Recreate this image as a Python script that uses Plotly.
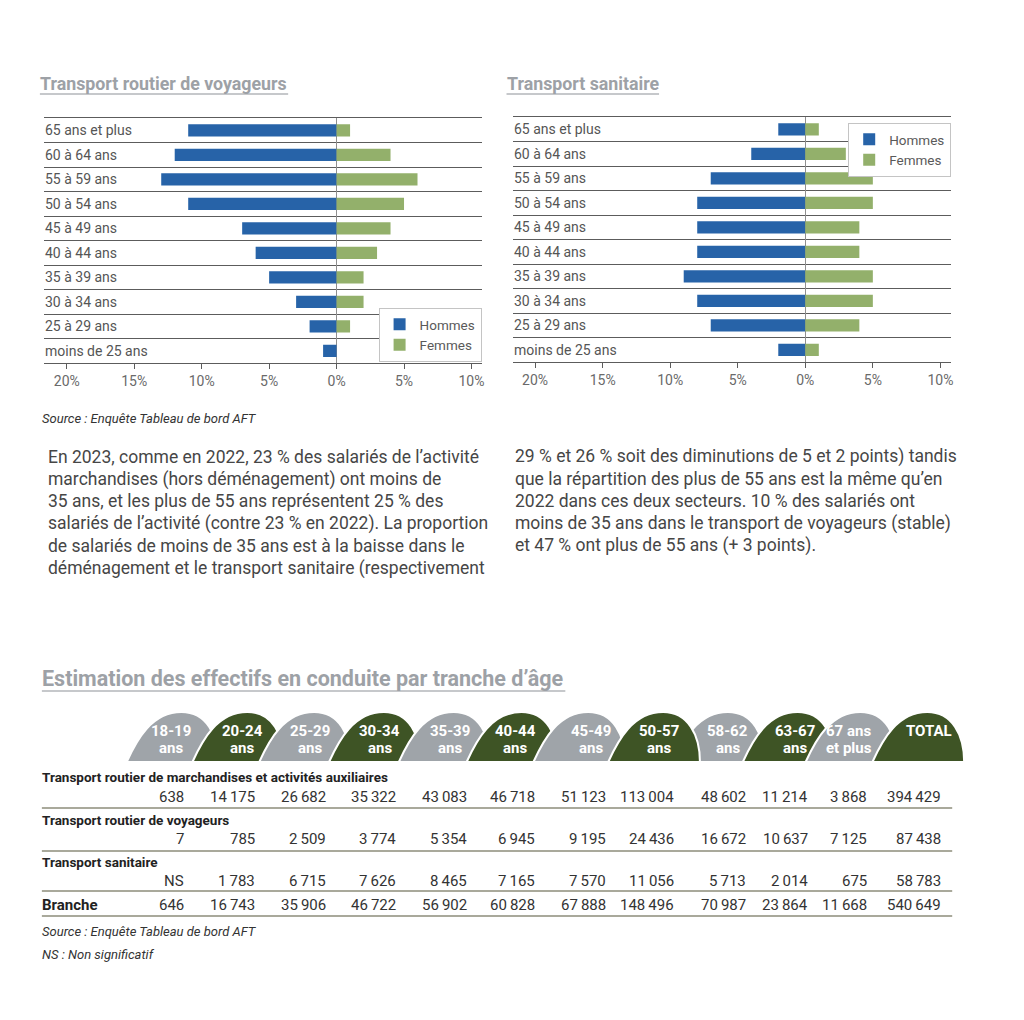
import plotly.graph_objects as go

# ---------------- DATA ----------------
AGE_GROUPS = ["65 ans et plus", "60 à 64 ans", "55 à 59 ans", "50 à 54 ans", "45 à 49 ans",
              "40 à 44 ans", "35 à 39 ans", "30 à 34 ans", "25 à 29 ans", "moins de 25 ans"]
VOY_HOMMES = [11, 12, 13, 11, 7, 6, 5, 3, 2, 1]
VOY_FEMMES = [1, 4, 6, 5, 4, 3, 2, 2, 1, 0]
SAN_HOMMES = [2, 4, 7, 8, 8, 8, 9, 8, 7, 2]
SAN_FEMMES = [1, 3, 5, 5, 4, 4, 5, 5, 4, 1]
TICK_VALS = [-20, -15, -10, -5, 0, 5, 10]
TICK_TEXT = ["20%", "15%", "10%", "5%", "0%", "5%", "10%"]

TAB_LINE1 = ["18-19", "20-24", "25-29", "30-34", "35-39", "40-44", "45-49", "50-57",
             "58-62", "63-67", "67 ans", "TOTAL"]
TAB_LINE2 = ["ans", "ans", "ans", "ans", "ans", "ans", "ans", "ans", "ans", "ans", "et plus", ""]

ROW_TITLES = ["Transport routier de marchandises et activités auxiliaires",
              "Transport routier de voyageurs", "Transport sanitaire", "Branche"]
MARCHANDISES = [638, 14175, 26682, 35322, 43083, 46718, 51123, 113004, 48602, 11214, 3868, 394429]
VOYAGEURS = [7, 785, 2509, 3774, 5354, 6945, 9195, 24436, 16672, 10637, 7125, 87438]
SANITAIRE = [None, 1783, 6715, 7626, 8465, 7165, 7570, 11056, 5713, 2014, 675, 58783]
BRANCHE = [646, 16743, 35906, 46722, 56902, 60828, 67888, 148496, 70987, 23864, 11668, 540649]

PARA_LEFT = [
    "En 2023, comme en 2022, 23 % des salariés de l’activité",
    "marchandises (hors déménagement) ont moins de",
    "35 ans, et les plus de 55 ans représentent 25 % des",
    "salariés de l’activité (contre 23 % en 2022). La proportion",
    "de salariés de moins de 35 ans est à la baisse dans le",
    "déménagement et le transport sanitaire (respectivement",
]
PARA_RIGHT = [
    "29 % et 26 % soit des diminutions de 5 et 2 points) tandis",
    "que la répartition des plus de 55 ans est la même qu’en",
    "2022 dans ces deux secteurs. 10 % des salariés ont",
    "moins de 35 ans dans le transport de voyageurs (stable)",
    "et 47 % ont plus de 55 ans (+ 3 points).",
]

# ---------------- LAYOUT CONSTANTS (pixels) ----------------
W, H = 1024, 1020
def px(x):
    return x / W
def py(y):
    return 1 - y / H

FONT = "Roboto, 'DejaVu Sans', sans-serif"
NARROW = "'Liberation Sans Narrow', 'Arial Narrow', Roboto, sans-serif"
BLUE = "#2763a8"
GREEN = "#93b06b"
GRID = "#5c5c5c"
TITLE_GRAY = "#9da1a6"
TAB_GRAY = "#9fa4a9"
TAB_DARK = "#3e5425"
RULE = "#8c8c7a"

COL_RIGHT = [184, 255, 326, 396, 467, 536, 607, 675, 747, 809, 869, 943]
TAB_X0 = [127, 193, 260, 330, 400, 468, 535, 610, 675, 745, 808, 875]
TAB_CX = [172, 243, 311, 381, 451, 517, 593, 661, 730, 797, 851, 932]
TAB_DRAW_ORDER = [0, 1, 2, 3, 4, 5, 6, 8, 7, 9, 10, 11]

fig = go.Figure()

# ---------------- BAR CHARTS ----------------
for hom, fem, xa, ya, lg in [(VOY_HOMMES, VOY_FEMMES, "x", "y", "legend"),
                             (SAN_HOMMES, SAN_FEMMES, "x2", "y2", "legend2")]:
    fig.add_trace(go.Bar(x=[-v for v in hom], y=AGE_GROUPS, orientation="h", name="Hommes",
                         marker=dict(color=BLUE, line=dict(width=0)), xaxis=xa, yaxis=ya,
                         legend=lg, hoverinfo="skip"))
    fig.add_trace(go.Bar(x=fem, y=AGE_GROUPS, orientation="h", name="Femmes",
                         marker=dict(color=GREEN, line=dict(width=0)), xaxis=xa, yaxis=ya,
                         legend=lg, hoverinfo="skip"))

xcommon = dict(tickvals=TICK_VALS, ticktext=TICK_TEXT, showgrid=False, zeroline=True,
               zerolinecolor="#8f8f8f", zerolinewidth=1, showline=True, linecolor=GRID,
               linewidth=1.3, mirror=True, ticks="outside", ticklen=5, tickcolor=GRID,
               tickfont=dict(family=FONT, size=14, color="#6a6a6a"), fixedrange=True)
ycommon = dict(type="category", categoryorder="array", categoryarray=AGE_GROUPS[::-1],
               range=[-0.5, 9.5], tickson="boundaries", showgrid=True, gridcolor=GRID,
               gridwidth=1.3, showticklabels=False, ticks="", showline=False, zeroline=False,
               fixedrange=True)

fig.update_layout(
    xaxis=dict(domain=[px(44), px(483)], range=[-21.7, 10.75], anchor="y", **xcommon),
    yaxis=dict(domain=[py(363), py(118)], anchor="x", **ycommon),
    xaxis2=dict(domain=[px(515), px(954)], range=[-21.6, 10.8], anchor="y2", **xcommon),
    yaxis2=dict(domain=[py(362), py(117)], anchor="x2", **ycommon),
    barmode="relative",
    bargap=0.5,
)

legend_common = dict(xanchor="right", yanchor="top", bgcolor="white", bordercolor="#c4c4c4",
                     borderwidth=1, font=dict(family=FONT, size=13.5, color="#5a5a5a"),
                     traceorder="normal", itemsizing="constant", tracegroupgap=0,
                     itemwidth=30)
fig.update_layout(
    legend=dict(x=px(483), y=py(308), **legend_common),
    legend2=dict(x=px(954), y=py(123), **legend_common),
)

annotations = []
shapes = []

# category labels inside plot areas
for xa, ya in [("x", "y"), ("x2", "y2")]:
    for cat in AGE_GROUPS:
        annotations.append(dict(text=cat, xref=f"{xa} domain", yref=ya, x=0.0, y=cat,
                                xanchor="left", yanchor="middle", showarrow=False, xshift=-1,
                                font=dict(family=FONT, size=14, color="#555")))

# titles
def title(text, x, y, size, underline_to, uy):
    annotations.append(dict(text=f"<b>{text}</b>", xref="paper", yref="paper", x=px(x), y=py(y),
                            xanchor="left", yanchor="middle", showarrow=False, xshift=-2,
                            font=dict(family=FONT, size=size, color=TITLE_GRAY)))
    shapes.append(dict(type="line", xref="paper", yref="paper", x0=px(x), x1=px(underline_to),
                       y0=py(uy), y1=py(uy), line=dict(color="#b3b6ba", width=1.5)))

title("Transport routier de voyageurs", 40, 83, 17.8, 289, 94)
title("Transport sanitaire", 508, 83, 17.8, 661, 94)
title("Estimation des effectifs en conduite par tranche d’âge", 42, 678, 21.5, 567, 691)

annotations.append(dict(text="<i>Source : Enquête Tableau de bord AFT</i>", xref="paper", yref="paper",
                        x=px(42), y=py(418), xanchor="left", yanchor="middle", showarrow=False,
                        xshift=-2, font=dict(family=FONT, size=13, color="#333")))

# paragraphs
for i, line in enumerate(PARA_LEFT):
    annotations.append(dict(text=line, xref="paper", yref="paper", x=px(46), y=py(457 + i * 22.2),
                            xanchor="left", yanchor="middle", showarrow=False,
                            font=dict(family=FONT, size=17.5, color="#464646")))
for i, line in enumerate(PARA_RIGHT):
    annotations.append(dict(text=line, xref="paper", yref="paper", x=px(515), y=py(457 + i * 22.2),
                            xanchor="left", yanchor="middle", showarrow=False,
                            font=dict(family=FONT, size=17.5, color="#464646")))

# ---------------- TABLE HEADER TABS ----------------
YB, YT = 762, 712
def tab_path(x0, w=92):
    pts = [(x0, YB), (x0 + 10, 740), (x0 + 25, YT), (x0 + 55, YT),
           (x0 + 80, YT), (x0 + w, 735), (x0 + w, YB)]
    p = [(px(a), py(b)) for a, b in pts]
    return (f"M {p[0][0]},{p[0][1]} C {p[1][0]},{p[1][1]} {p[2][0]},{p[2][1]} {p[3][0]},{p[3][1]} "
            f"C {p[4][0]},{p[4][1]} {p[5][0]},{p[5][1]} {p[6][0]},{p[6][1]} Z")

for i in TAB_DRAW_ORDER:
    color = TAB_GRAY if i % 2 == 0 else TAB_DARK
    shapes.append(dict(type="path", xref="paper", yref="paper", path=tab_path(TAB_X0[i]),
                       fillcolor=color, line=dict(color="white", width=2), layer="above"))

for i in range(len(TAB_LINE1)):
    annotations.append(dict(text=f"<b>{TAB_LINE1[i]}</b>", xref="paper", yref="paper",
                            x=px(TAB_CX[i]), y=py(731), xanchor="center", yanchor="middle",
                            showarrow=False, font=dict(family=FONT, size=15, color="white")))
    if TAB_LINE2[i]:
        annotations.append(dict(text=f"<b>{TAB_LINE2[i]}</b>", xref="paper", yref="paper",
                                x=px(TAB_CX[i]), y=py(748), xanchor="center", yanchor="middle",
                                showarrow=False, font=dict(family=FONT, size=15, color="white")))

# ---------------- TABLE BODY ----------------
def fmt(v):
    if v is None:
        return "NS"
    return f"{v:,}".replace(",", "\u2009")

ROW_TITLE_Y = [777, 820, 862, 905]
ROW_VALUE_Y = [797, 839, 881, 905]
RULE_Y = [808, 851, 891, 916]
for r, (title_txt, vals) in enumerate(zip(ROW_TITLES, [MARCHANDISES, VOYAGEURS, SANITAIRE, BRANCHE])):
    annotations.append(dict(text=f"<b>{title_txt}</b>", xref="paper", yref="paper", x=px(42),
                            y=py(ROW_TITLE_Y[r]), xanchor="left", yanchor="middle", showarrow=False,
                            xshift=-2,
                            font=dict(family=NARROW, size=15 if r == 3 else 13.5, color="#222")))
    for c, v in enumerate(vals):
        annotations.append(dict(text=fmt(v), xref="paper", yref="paper", x=px(COL_RIGHT[c]),
                                y=py(ROW_VALUE_Y[r]), xanchor="right", yanchor="middle",
                                showarrow=False, xshift=3,
                                font=dict(family=FONT, size=15, color="#333")))
    shapes.append(dict(type="line", xref="paper", yref="paper", x0=px(42), x1=px(955),
                       y0=py(RULE_Y[r]), y1=py(RULE_Y[r]), line=dict(color=RULE, width=1.5)))

annotations.append(dict(text="<i>Source : Enquête Tableau de bord AFT</i>", xref="paper", yref="paper",
                        x=px(42), y=py(931), xanchor="left", yanchor="middle", showarrow=False,
                        xshift=-2, font=dict(family=FONT, size=13, color="#333")))
annotations.append(dict(text="<i>NS : Non significatif</i>", xref="paper", yref="paper",
                        x=px(42), y=py(954), xanchor="left", yanchor="middle", showarrow=False,
                        xshift=-2, font=dict(family=FONT, size=13, color="#333")))

fig.update_layout(
    width=W, height=H, autosize=False,
    margin=dict(l=0, r=0, t=0, b=0, pad=0),
    paper_bgcolor="white", plot_bgcolor="white",
    annotations=annotations, shapes=shapes,
    font=dict(family=FONT, color="#555"),
)

fig.write_html("out.html", config={"displayModeBar": False},
               post_script="document.body.style.margin='0';")
